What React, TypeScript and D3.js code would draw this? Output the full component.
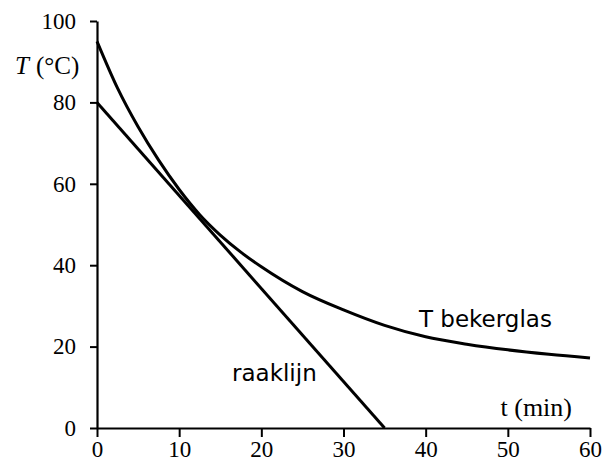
import React, { useEffect, useRef } from 'react';
import * as d3 from 'd3';

// afkoelcurve
const tijd = [0, 2.5, 5, 7.5, 10, 12.5, 15, 17.5, 20, 25, 30, 35, 40, 45, 50, 55, 60];
const temp = [95, 83.5, 74, 65.8, 58.6, 52.4, 47.4, 43.2, 39.6, 33.5, 29, 25.2, 22.4, 20.6, 19.2, 18.1, 17.2];
// raaklijn
const raakT = [0, 35];
const raakY = [80, 0];
const xTicks = [0, 10, 20, 30, 40, 50, 60];
const yTicks = [0, 20, 40, 60, 80, 100];

const W = 605, H = 463;
const serif = '"Liberation Serif", "Times New Roman", serif';
const sans = '"DejaVu Sans", "Liberation Sans", sans-serif';

const App = () => {
    const ref = useRef<SVGSVGElement>(null);
    useEffect(() => {
        const svg = d3.select(ref.current);
        svg.selectAll('*').remove();

        const x = d3.scaleLinear().domain([0, 60]).range([97, 590]);
        const y = d3.scaleLinear().domain([0, 100]).range([428, 21]);

        // y axis
        const gy = svg.append('g').attr('transform', 'translate(97,0)')
            .call(d3.axisLeft(y).tickValues(yTicks).tickSize(7).tickPadding(14).tickSizeOuter(0));
        gy.select('.domain').attr('stroke-width', 2.2);
        gy.selectAll('line').attr('stroke-width', 2);
        gy.selectAll('text').attr('font-family', serif).attr('font-size', 23).attr('fill', '#000');

        // x axis
        const gx = svg.append('g').attr('transform', 'translate(0,428)')
            .call(d3.axisBottom(x).tickValues(xTicks).tickSize(9).tickPadding(4).tickSizeOuter(0));
        gx.select('.domain').attr('stroke-width', 2.2);
        gx.selectAll('line').attr('stroke-width', 2);
        gx.selectAll('text').attr('font-family', serif).attr('font-size', 23).attr('fill', '#000');

        const line = d3.line<number>()
            .x((d, i) => x(tijd[i]))
            .y(d => y(d))
            .curve(d3.curveMonotoneX);
        svg.append('path').datum(temp)
            .attr('fill', 'none').attr('stroke', '#000').attr('stroke-width', 3)
            .attr('d', line);

        svg.append('path').datum(raakY)
            .attr('fill', 'none').attr('stroke', '#000').attr('stroke-width', 3)
            .attr('d', d3.line<number>().x((d, i) => x(raakT[i])).y(d => y(d)));

        // labels
        const yl = svg.append('text').attr('x', 15).attr('y', 74)
            .attr('font-family', serif).attr('font-size', 25);
        yl.append('tspan').attr('font-style', 'italic').text('T');
        yl.append('tspan').attr('dx', 7).text('(°C)');

        svg.append('text').attr('x', 572).attr('y', 416).attr('text-anchor', 'end')
            .attr('font-family', serif).attr('font-size', 26).text('t (min)');
        svg.append('text').attr('x', 419).attr('y', 327)
            .attr('font-family', sans).attr('font-size', 23).text('T bekerglas');
        svg.append('text').attr('x', 232).attr('y', 381)
            .attr('font-family', sans).attr('font-size', 23).text('raaklijn');
    }, []);
    return (
        <svg ref={ref} width={W} height={H}
            style={{ position: 'absolute', left: 0, top: 0, background: '#fff' }} />
    );
};

export default App;
